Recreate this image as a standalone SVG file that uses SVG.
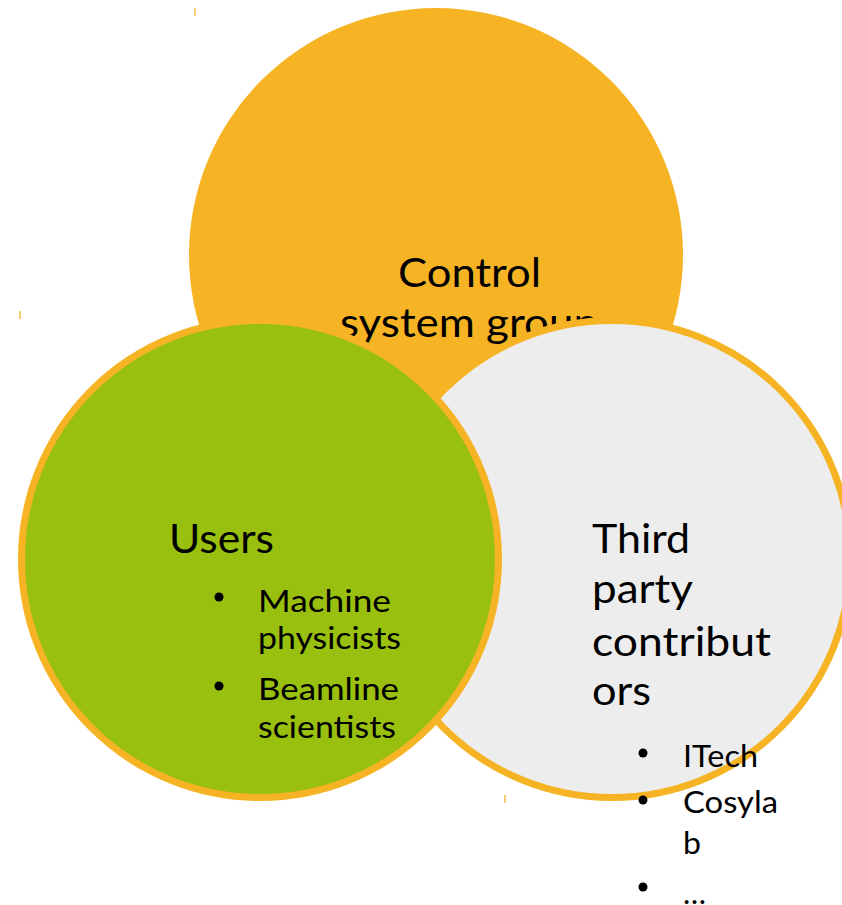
<svg xmlns="http://www.w3.org/2000/svg" width="842" height="905" viewBox="0 0 842 905">
<style>
.t{font-family:Lato,"Open Sans","Liberation Sans",sans-serif;fill:#000}
.big{font-size:41px}
.bg2{font-size:40px}
.sm{font-size:30px}
.ring{stroke:#F6B324;stroke-width:7}
.tick{stroke:#F9CD73;stroke-width:2}
</style>
<rect width="842" height="905" fill="#FFFFFF"/>
<g id="ticks">
<line class="tick" x1="195" y1="8" x2="195" y2="16"/>
<line class="tick" x1="20" y1="311" x2="20" y2="319"/>
<line class="tick" x1="505" y1="795" x2="505" y2="803"/>
</g>
<g id="control-system-group">
<circle cx="436" cy="255" r="247" fill="#F6B324"/>
<text class="t big" x="398" y="287" textLength="143" lengthAdjust="spacingAndGlyphs">Control</text>
<text class="t big" x="340" y="337" textLength="258" lengthAdjust="spacingAndGlyphs">system group</text>
</g>
<g id="third-party">
<circle class="ring" cx="612" cy="559" r="238.5" fill="#EDEDED"/>
</g>
<g id="users">
<circle class="ring" cx="260" cy="559" r="238.5" fill="#99BF0F"/>
<text class="t big" x="169" y="553" textLength="105" lengthAdjust="spacingAndGlyphs">Users</text>
<circle cx="219" cy="597" r="4.5"/>
<text class="t sm" x="258" y="612" textLength="133" lengthAdjust="spacingAndGlyphs">Machine</text>
<text class="t sm" x="258" y="649" textLength="143" lengthAdjust="spacingAndGlyphs">physicists</text>
<circle cx="219" cy="686" r="4.5"/>
<text class="t sm" x="258" y="700" textLength="141" lengthAdjust="spacingAndGlyphs">Beamline</text>
<text class="t sm" x="258" y="738" textLength="138" lengthAdjust="spacingAndGlyphs">scientists</text>
</g>
<g id="third-party-text">
<text class="t bg2" x="592" y="553" textLength="98" lengthAdjust="spacingAndGlyphs">Third</text>
<text class="t bg2" x="592" y="603" textLength="101" lengthAdjust="spacingAndGlyphs">party</text>
<text class="t bg2" x="592" y="656" textLength="179" lengthAdjust="spacingAndGlyphs">contribut</text>
<text class="t bg2" x="592" y="705" textLength="59" lengthAdjust="spacingAndGlyphs">ors</text>
<circle cx="643" cy="753" r="4.5"/>
<text class="t sm" x="683" y="767" textLength="75" lengthAdjust="spacingAndGlyphs">ITech</text>
<circle cx="643" cy="800" r="4.5"/>
<text class="t sm" x="683" y="813" textLength="95" lengthAdjust="spacingAndGlyphs">Cosyla</text>
<text class="t sm" x="683" y="854" textLength="18" lengthAdjust="spacingAndGlyphs">b</text>
<circle cx="643" cy="887" r="4.5"/>
<text class="t sm" x="683" y="904" textLength="23" lengthAdjust="spacingAndGlyphs">…</text>
</g>
</svg>
